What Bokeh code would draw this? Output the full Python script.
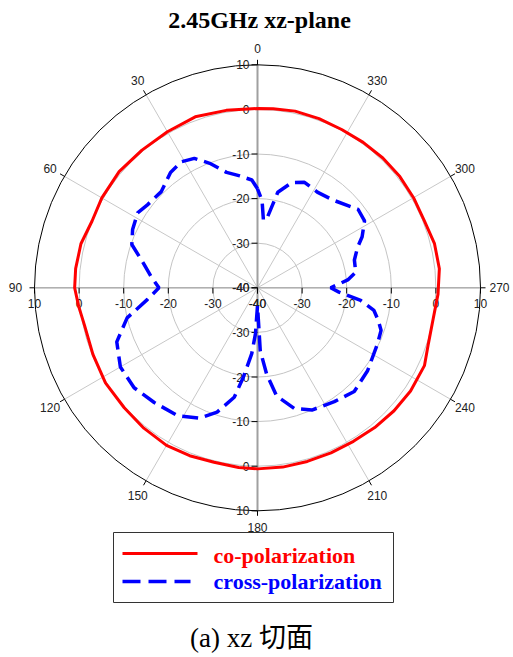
import numpy as np
from bokeh.plotting import figure
from bokeh.models import Range1d
from bokeh.core.properties import value
from bokeh.embed import file_html
from bokeh.resources import INLINE

# ---------------- data ----------------
title_text = "2.45GHz xz-plane"
caption_text = "(a) xz 切面"
series_names = ["co-polarization", "cross-polarization"]

angle_ticks = [0, 30, 60, 90, 120, 150, 180, 210, 240, 270, 300, 330]
radial_ticks = [-40, -30, -20, -10, 0, 10]
grid_levels = [-30, -20, -10, 0]
r_min, r_max = -40, 10

co_angle = [0, 10, 20, 30, 40, 50, 60, 68, 76, 84, 90, 96, 102, 112, 122, 132,
            141, 150, 158, 166, 174, 180, 188, 196, 204, 212, 220, 228, 236,
            245, 252, 260, 268, 276, 284, 292, 300, 308, 316, 324, 332, 340,
            348, 355, 360]
co_db = [0.2, 0.4, 0.8, 0.4, 0.3, 0.5, 0.3, 0.0, 0.8, 1.0, 1.0, 0.3, -0.3,
         -0.2, 0.2, 0.2, 0.5, 0.8, 0.6, 0.3, 0.5, 0.6, 0.6, 0.5, 0.5, 0.6,
         0.9, 1.2, 1.4, 1.3, 0.3, 0.0, 0.5, 1.0, 0.9, 0.3, 0.4, 0.5, 0.45,
         0.3, 0.2, 0.35, 0.5, 0.3, 0.2]

cross_angle = [0, 3, 9, 15, 21, 26, 31, 37, 45, 53, 58, 65, 71, 78, 84, 90,
               96, 103, 111, 120, 129, 138, 148, 156, 162, 168, 171, 175,
               177.5, 180, 182.5, 186, 190, 197, 204, 214, 223, 233, 245,
               251, 255, 259, 263, 267, 270, 275, 279, 286, 292, 296, 302,
               308, 319, 328, 336, 342, 348, 352, 355, 357, 360]
cross_db = [-17.8, -15.8, -14.6, -13.2, -10.1, -7.7, -7.0, -7.6, -9.5, -9.1,
            -8.3, -9.1, -10.2, -13.9, -16.0, -17.9, -15.2, -10.0, -6.2, -4.5,
            -4.4, -5.4, -6.2, -8.0, -10.7, -14.9, -19.7, -25.2, -29.7, -36.0,
            -25.9, -20.6, -15.4, -11.7, -10.0, -9.2, -8.2, -9.1, -10.3, -10.7,
            -12.0, -13.4, -16.7, -21.7, -23.6, -19.7, -17.7, -17.4, -15.8,
            -13.9, -11.7, -11.4, -14.0, -14.7, -14.1, -15.2, -18.1, -24.0,
            -24.8, -20.4, -17.8]

# ---------------- geometry ----------------
S = 4.46            # px per dB
W, H = 513, 657
CX, CY = 257.0, 287.3   # figure pixel coords of the centre


def px(x):
    return (x - CX) / S


def py(y):
    return (CY - y) / S


def polar(theta_deg, db):
    t = np.radians(np.asarray(theta_deg, dtype=float))
    rho = np.asarray(db, dtype=float) - r_min
    return -rho * np.sin(t), rho * np.cos(t)


x0 = -CX / S
y1 = CY / S
p = figure(width=W, height=H, x_range=Range1d(x0, x0 + W / S),
           y_range=Range1d(y1 - H / S, y1), output_backend="svg",
           toolbar_location=None, min_border=0)
p.axis.visible = False
p.grid.visible = False
p.outline_line_color = None
p.background_fill_color = "white"

R = r_max - r_min
sans = value("Liberation Sans")
serif = value("Liberation Serif")

# grid circles
p.circle(x=[0] * len(grid_levels), y=[0] * len(grid_levels),
         radius=[g - r_min for g in grid_levels], fill_color=None,
         line_color="#c4c4c4", line_width=1)
# spokes
sp_x, sp_y = polar(angle_ticks, [r_max] * len(angle_ticks))
p.segment(x0=[0] * len(angle_ticks), y0=[0] * len(angle_ticks), x1=sp_x, y1=sp_y,
          line_color="#c8c8c8", line_width=1)
# main axes lines
p.segment(x0=[-R], y0=[0], x1=[R], y1=[0], line_color="#b0b0b0", line_width=1.5)
p.segment(x0=[0], y0=[-R], x1=[0], y1=[R], line_color="#a0a0a0", line_width=2)
# outer circle
p.circle(x=[0], y=[0], radius=[R], fill_color=None, line_color="black", line_width=1)

# angle ticks & labels
t_in_x, t_in_y = polar(angle_ticks, [r_max] * len(angle_ticks))
t_out_x, t_out_y = polar(angle_ticks, [r_max + 5 / S] * len(angle_ticks))
p.segment(x0=t_in_x, y0=t_in_y, x1=t_out_x, y1=t_out_y, line_color="black", line_width=1)
lab_r = []
for a in angle_ticks:
    if a in (90, 270):
        lab_r.append(r_max + 19 / S)
    else:
        lab_r.append(r_max + 16.5 / S)
la_x, la_y = polar(angle_ticks, lab_r)
p.text(x=la_x, y=la_y, text=[str(a) for a in angle_ticks], text_align="center",
       text_baseline="middle", text_font=sans, text_font_size="12px",
       text_color="#222222")

# radial ticks & labels (vertical axis, up and down; horizontal, left and right)
rho = np.array([v - r_min for v in radial_ticks], dtype=float)
labels = [str(v) for v in radial_ticks]
n = len(rho)
for sgn in (1, -1):
    p.segment(x0=[px(251)] * n, y0=sgn * rho, x1=[0] * n, y1=sgn * rho,
              line_color="black", line_width=1)
    p.text(x=[px(249)] * n, y=sgn * rho, text=labels, text_align="right",
           text_baseline="middle", text_font=sans, text_font_size="12px",
           text_color="#222222")
    p.segment(x0=sgn * rho, y0=[0] * n, x1=sgn * rho, y1=[py(293)] * n,
              line_color="black", line_width=1)
    p.text(x=sgn * rho, y=[py(298)] * n, text=labels, text_align="center",
           text_baseline="top", text_font=sans, text_font_size="12px",
           text_color="#222222")

# data curves
cx_, cy_ = polar(co_angle, co_db)
p.line(cx_, cy_, line_color="#ff0000", line_width=3)
bx_, by_ = polar(cross_angle, cross_db)
p.line(bx_, by_, line_color="#0000ff", line_width=3.5, line_dash="16 7")

# title
p.text(x=[px(259)], y=[py(19)], text=[title_text], text_align="center",
       text_baseline="middle", text_font=serif, text_font_size="24px",
       text_font_style="bold", text_color="black")

# legend
p.quad(left=[px(113)], right=[px(393)], top=[py(532)], bottom=[py(602)],
       fill_color="white", line_color="#333333", line_width=1)
p.segment(x0=[px(122)], y0=[py(553)], x1=[px(197)], y1=[py(553)],
          line_color="#ff0000", line_width=3)
p.segment(x0=[px(122)], y0=[py(581)], x1=[px(190)], y1=[py(581)],
          line_color="#0000ff", line_width=3.5, line_dash="18 8")
p.text(x=[px(213), px(213)], y=[py(555), py(581)], text=series_names,
       text_align="left", text_baseline="middle", text_font=serif,
       text_font_size="22px", text_font_style="bold",
       text_color=["#ff0000", "#0000ff"])

# caption
p.text(x=[px(251)], y=[py(637)], text=[caption_text], text_align="center",
       text_baseline="middle",
       text_font=value("'Liberation Serif', 'Noto Sans CJK SC'"),
       text_font_size="27px", text_color="black")

open("out.html", "w").write(file_html(p, INLINE))
